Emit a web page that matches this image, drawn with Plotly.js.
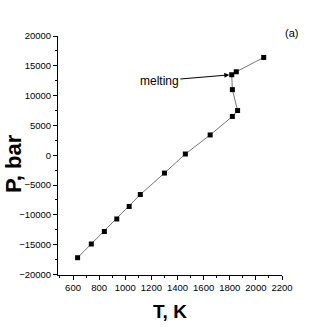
<!DOCTYPE html>
<html>
<head>
<meta charset="utf-8">
<script src="https://cdn.plot.ly/plotly-3.0.1.min.js"></script>
<style>
  html, body { margin: 0; padding: 0; background: #fff; }
  #plot { width: 327px; height: 327px; }
</style>
</head>
<body>
<div id="plot"></div>
<script>
// temperature (K) and pressure (bar), in path order
var temps = [635, 740, 840, 935, 1030, 1115, 1300, 1460, 1650, 1820, 1860, 1820, 1815, 1850, 2060];
var pressures = [-17200, -14900, -12800, -10700, -8600, -6600, -3000, 200, 3400, 6500, 7500, 11000, 13500, 14000, 16400];

var tickFont = {family: 'Liberation Sans Narrow, Arial Narrow, Liberation Sans, Arial', size: 9.5, color: '#000'};

var trace1 = {
  x: temps,
  y: pressures,
  type: 'scatter',
  mode: 'lines+markers',
  line: {color: '#777', width: 1},
  marker: {symbol: 'square', size: 5, color: '#000'},
  hoverinfo: 'skip'
};

// plot area in pixels, used to place the free texts
var L = 58, R = 45, T = 36, B = 52, W = 327, H = 327;
function px(x) { return (x - L) / (W - L - R); }
function py(y) { return (H - B - y) / (H - T - B); }

var layout = {
  width: W,
  height: H,
  margin: {l: L, r: R, t: T, b: B},
  showlegend: false,
  paper_bgcolor: '#fff',
  plot_bgcolor: '#fff',
  xaxis: {
    range: [485, 2200],
    tickmode: 'linear',
    tick0: 600,
    dtick: 200,
    tickformat: 'd',
    ticks: 'outside',
    ticklen: 4,
    tickcolor: '#000',
    showline: true,
    linecolor: '#000',
    linewidth: 1,
    showgrid: false,
    zeroline: false,
    tickfont: tickFont,
    minor: {dtick: 100, ticks: 'outside', ticklen: 2, tickcolor: '#000'},
    title: {text: '<b>T, K</b>', font: {family: 'Liberation Sans, Arial', size: 19, color: '#000'}, standoff: 12}
  },
  yaxis: {
    range: [-20100, 20000],
    tickmode: 'linear',
    tick0: 0,
    dtick: 5000,
    tickformat: 'd',
    ticks: 'outside',
    ticklen: 4,
    tickcolor: '#000',
    showline: true,
    linecolor: '#000',
    linewidth: 1,
    showgrid: false,
    zeroline: false,
    tickfont: tickFont,
    minor: {dtick: 2500, ticks: 'outside', ticklen: 2, tickcolor: '#000'}
  },
  annotations: [
    {
      x: 1812, y: 13500, xref: 'x', yref: 'y',
      ax: -72, ay: 6,
      text: 'melting',
      showarrow: true,
      arrowhead: 2,
      arrowsize: 1,
      arrowwidth: 1,
      arrowcolor: '#000',
      standoff: 2,
      font: {family: 'Liberation Sans, Arial', size: 12, color: '#000'}
    },
    {
      x: px(291), y: py(33), xref: 'paper', yref: 'paper',
      xanchor: 'center', yanchor: 'middle',
      text: '(a)', showarrow: false,
      font: {family: 'Liberation Sans Narrow, Liberation Sans, Arial', size: 11, color: '#000'}
    },
    {
      x: px(13), y: py(164), xref: 'paper', yref: 'paper',
      xanchor: 'center', yanchor: 'middle',
      textangle: -90,
      text: '<b>P, bar</b>', showarrow: false,
      font: {family: 'Liberation Sans, Arial', size: 22, color: '#000'}
    }
  ]
};

Plotly.newPlot('plot', [trace1], layout, {staticPlot: true});
</script>
</body>
</html>
